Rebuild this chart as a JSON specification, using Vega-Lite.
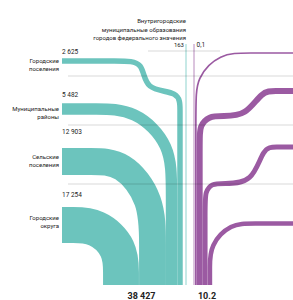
{
  "$schema": "https://vega.github.io/schema/vega-lite/v6.json",
  "width": 293,
  "height": 300,
  "padding": 0,
  "autosize": {"type": "none"},
  "config": {"view": {"stroke": null}, "text": {"font": "Roboto", "color": "#222222"}},
  "datasets": {
    "teal": [
      {"name": "Городские округа", "value": 17254, "i": 0, "x": 62, "y": 225},
      {"name": "Городские округа", "value": 17254, "i": 1, "x": 70, "y": 225},
      {"name": "Городские округа", "value": 17254, "i": 2, "x": 97, "y": 225},
      {"name": "Городские округа", "value": 17254, "i": 3, "x": 121, "y": 248},
      {"name": "Городские округа", "value": 17254, "i": 4, "x": 121, "y": 275},
      {"name": "Городские округа", "value": 17254, "i": 5, "x": 121, "y": 285},
      {"name": "Сельские поселения", "value": 12903, "i": 0, "x": 62, "y": 161.5},
      {"name": "Сельские поселения", "value": 12903, "i": 1, "x": 90, "y": 161.5},
      {"name": "Сельские поселения", "value": 12903, "i": 2, "x": 123, "y": 161.5},
      {"name": "Сельские поселения", "value": 12903, "i": 3, "x": 152.5, "y": 200},
      {"name": "Сельские поселения", "value": 12903, "i": 4, "x": 152.5, "y": 245},
      {"name": "Сельские поселения", "value": 12903, "i": 5, "x": 152.5, "y": 285},
      {"name": "Муниципальные районы", "value": 5482, "i": 0, "x": 62, "y": 109},
      {"name": "Муниципальные районы", "value": 5482, "i": 1, "x": 95, "y": 109},
      {"name": "Муниципальные районы", "value": 5482, "i": 2, "x": 135, "y": 109},
      {"name": "Муниципальные районы", "value": 5482, "i": 3, "x": 171.5, "y": 145},
      {"name": "Муниципальные районы", "value": 5482, "i": 4, "x": 171.5, "y": 190},
      {"name": "Муниципальные районы", "value": 5482, "i": 5, "x": 171.5, "y": 285},
      {"name": "Городские поселения", "value": 2625, "i": 0, "x": 62, "y": 61},
      {"name": "Городские поселения", "value": 2625, "i": 1, "x": 120, "y": 61},
      {"name": "Городские поселения", "value": 2625, "i": 2, "x": 144, "y": 61},
      {"name": "Городские поселения", "value": 2625, "i": 3, "x": 144, "y": 91},
      {"name": "Городские поселения", "value": 2625, "i": 4, "x": 180, "y": 91},
      {"name": "Городские поселения", "value": 2625, "i": 5, "x": 180, "y": 110},
      {"name": "Городские поселения", "value": 2625, "i": 6, "x": 180, "y": 130},
      {"name": "Городские поселения", "value": 2625, "i": 7, "x": 180, "y": 285}
    ],
    "purple": [
      {"name": "Городские поселения", "value": 1.0, "i": 0, "x": 293, "y": 53},
      {"name": "Городские поселения", "value": 1.0, "i": 1, "x": 248, "y": 53},
      {"name": "Городские поселения", "value": 1.0, "i": 2, "x": 220, "y": 53},
      {"name": "Городские поселения", "value": 1.0, "i": 3, "x": 195.85, "y": 78},
      {"name": "Городские поселения", "value": 1.0, "i": 4, "x": 195.85, "y": 105},
      {"name": "Городские поселения", "value": 1.0, "i": 5, "x": 195.85, "y": 285},
      {"name": "Муниципальные районы", "value": 3.5, "i": 0, "x": 293, "y": 91},
      {"name": "Муниципальные районы", "value": 3.5, "i": 1, "x": 275, "y": 91},
      {"name": "Муниципальные районы", "value": 3.5, "i": 2, "x": 262, "y": 91},
      {"name": "Муниципальные районы", "value": 3.5, "i": 3, "x": 246, "y": 116},
      {"name": "Муниципальные районы", "value": 3.5, "i": 4, "x": 222, "y": 116},
      {"name": "Муниципальные районы", "value": 3.5, "i": 5, "x": 209, "y": 116},
      {"name": "Муниципальные районы", "value": 3.5, "i": 6, "x": 199.7, "y": 126},
      {"name": "Муниципальные районы", "value": 3.5, "i": 7, "x": 199.7, "y": 138},
      {"name": "Муниципальные районы", "value": 3.5, "i": 8, "x": 199.7, "y": 285},
      {"name": "Сельские поселения", "value": 2.9, "i": 0, "x": 293, "y": 147},
      {"name": "Сельские поселения", "value": 2.9, "i": 1, "x": 276, "y": 147},
      {"name": "Сельские поселения", "value": 2.9, "i": 2, "x": 263, "y": 147},
      {"name": "Сельские поселения", "value": 2.9, "i": 3, "x": 253, "y": 183.5},
      {"name": "Сельские поселения", "value": 2.9, "i": 4, "x": 222, "y": 183.5},
      {"name": "Сельские поселения", "value": 2.9, "i": 5, "x": 212, "y": 183.5},
      {"name": "Сельские поселения", "value": 2.9, "i": 6, "x": 205.1, "y": 192},
      {"name": "Сельские поселения", "value": 2.9, "i": 7, "x": 205.1, "y": 205},
      {"name": "Сельские поселения", "value": 2.9, "i": 8, "x": 205.1, "y": 285},
      {"name": "Городские округа", "value": 2.7, "i": 0, "x": 293, "y": 223.5},
      {"name": "Городские округа", "value": 2.7, "i": 1, "x": 252, "y": 223.5},
      {"name": "Городские округа", "value": 2.7, "i": 2, "x": 231, "y": 223.5},
      {"name": "Городские округа", "value": 2.7, "i": 3, "x": 209.9, "y": 245},
      {"name": "Городские округа", "value": 2.7, "i": 4, "x": 209.9, "y": 268},
      {"name": "Городские округа", "value": 2.7, "i": 5, "x": 209.9, "y": 285}
    ],
    "thin": [
      {"measure": "teal", "name": "Внутригородские муниципальные образования", "value": 163, "x": 186, "y": 44, "y2": 285},
      {"measure": "purple", "name": "Внутригородские муниципальные образования", "value": 0.1, "x": 194, "y": 44, "y2": 285}
    ],
    "grid": [
      {"x": 148, "x2": 220, "y": 51},
      {"x": 68, "x2": 293, "y": 76},
      {"x": 68, "x2": 293, "y": 125},
      {"x": 68, "x2": 293, "y": 184}
    ],
    "labels": [
      {"kind": "cat", "text": ["Городские", "поселения"], "x": 59, "y": 61},
      {"kind": "cat", "text": ["Муниципальные", "районы"], "x": 59, "y": 109},
      {"kind": "cat", "text": ["Сельские", "поселения"], "x": 59, "y": 157},
      {"kind": "cat", "text": ["Городские", "округа"], "x": 59, "y": 217.5},
      {"kind": "val", "text": "2 625", "x": 62, "y": 51.5},
      {"kind": "val", "text": "5 482", "x": 62, "y": 95},
      {"kind": "val", "text": "12 903", "x": 62, "y": 131.5},
      {"kind": "val", "text": "17 254", "x": 62, "y": 195},
      {"kind": "val", "text": "0,1", "x": 196.5, "y": 44.5},
      {"kind": "title", "text": "Внутригородские", "x": 186, "y": 21},
      {"kind": "title", "text": "муниципальные образования", "x": 186, "y": 29.5},
      {"kind": "title", "text": "городов федерального значения", "x": 186, "y": 38},
      {"kind": "title", "text": "163", "x": 184, "y": 44.5},
      {"kind": "total", "text": "38 427", "x": 141.5, "y": 296},
      {"kind": "total", "text": "10.2", "x": 207, "y": 296}
    ]
  },
  "encoding": {
    "x": {"field": "x", "type": "quantitative", "scale": {"domain": [0, 293], "range": [0, 293], "nice": false, "zero": false}, "axis": null},
    "y": {"field": "y", "type": "quantitative", "scale": {"domain": [0, 300], "range": [0, 300], "nice": false, "zero": false}, "axis": null}
  },
  "layer": [
    {
      "data": {"name": "teal"},
      "mark": {"type": "line", "interpolate": "basis", "strokeCap": "butt", "color": "#6cc4bd"},
      "encoding": {
        "detail": {"field": "name"},
        "order": {"field": "i", "type": "quantitative"},
        "strokeWidth": {"field": "value", "type": "quantitative", "scale": {"domain": [0, 17254], "range": [0, 35.9]}, "legend": null}
      }
    },
    {
      "data": {"name": "purple"},
      "mark": {"type": "line", "interpolate": "basis", "strokeCap": "butt", "color": "#9b5aa2"},
      "encoding": {
        "detail": {"field": "name"},
        "order": {"field": "i", "type": "quantitative"},
        "strokeWidth": {"field": "value", "type": "quantitative", "scale": {"domain": [0, 10.2], "range": [0, 17.3]}, "legend": null}
      }
    },
    {
      "data": {"name": "thin"},
      "transform": [{"filter": "datum.measure === 'teal'"}],
      "mark": {"type": "rule", "color": "#8fd3ce", "strokeWidth": 1},
      "encoding": {"y2": {"field": "y2"}}
    },
    {
      "data": {"name": "thin"},
      "transform": [{"filter": "datum.measure === 'purple'"}],
      "mark": {"type": "rule", "color": "#b88abd", "strokeWidth": 1},
      "encoding": {"y2": {"field": "y2"}}
    },
    {
      "data": {"name": "grid"},
      "mark": {"type": "rule", "color": "#000000", "opacity": 0.15, "strokeWidth": 1},
      "encoding": {"x2": {"field": "x2"}}
    },
    {
      "data": {"name": "labels"},
      "transform": [{"filter": "datum.kind === 'cat'"}],
      "mark": {"type": "text", "align": "right", "baseline": "middle", "fontSize": 6, "lineHeight": 8},
      "encoding": {"text": {"field": "text"}}
    },
    {
      "data": {"name": "labels"},
      "transform": [{"filter": "datum.kind === 'val'"}],
      "mark": {"type": "text", "align": "left", "baseline": "middle", "fontSize": 6.5},
      "encoding": {"text": {"field": "text"}}
    },
    {
      "data": {"name": "labels"},
      "transform": [{"filter": "datum.kind === 'title'"}],
      "mark": {"type": "text", "align": "right", "baseline": "middle", "fontSize": 6},
      "encoding": {"text": {"field": "text"}}
    },
    {
      "data": {"name": "labels"},
      "transform": [{"filter": "datum.kind === 'total'"}],
      "mark": {"type": "text", "align": "center", "baseline": "middle", "fontSize": 9, "fontWeight": "bold"},
      "encoding": {"text": {"field": "text"}}
    }
  ],
  "resolve": {"scale": {"strokeWidth": "independent"}}
}
